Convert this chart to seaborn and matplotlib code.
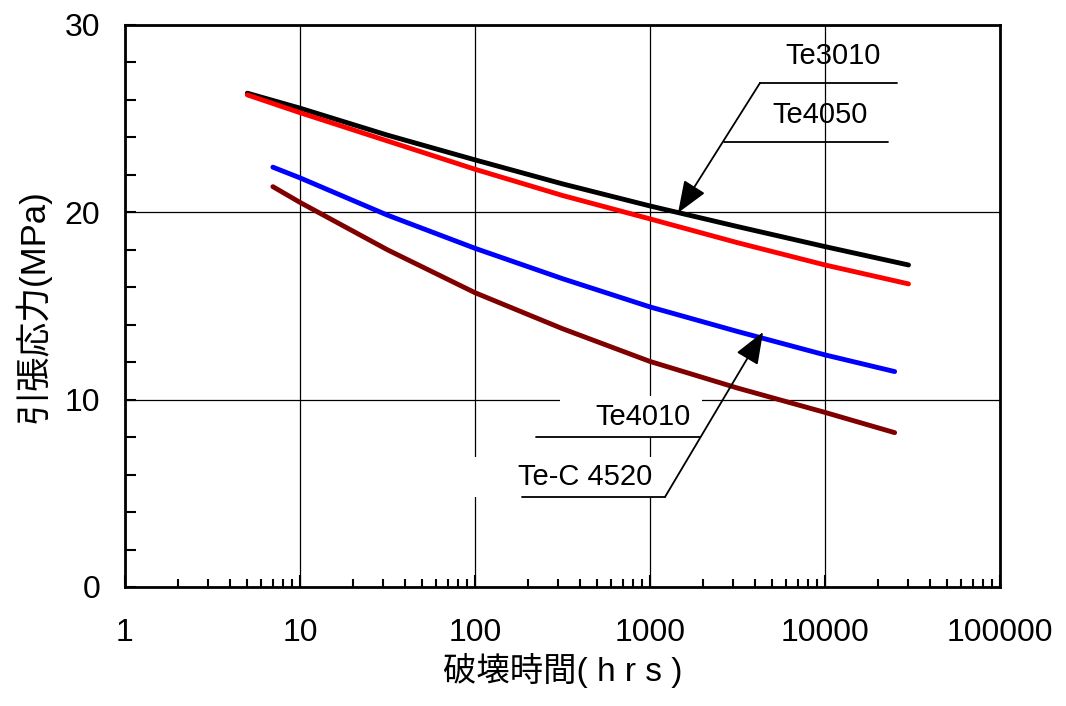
import matplotlib
matplotlib.use("Agg")
import numpy as np
import pandas as pd
import matplotlib.pyplot as plt
import seaborn as sns
from matplotlib.ticker import LogLocator, MultipleLocator, NullFormatter
from matplotlib.patches import Rectangle

# curves (hours, MPa), read at decades and half decades
hours_3010 = [5, 10, 31.6, 100, 316, 1000, 3162, 10000, 30000]
stress_3010 = [26.36, 25.56, 24.12, 22.80, 21.52, 20.34, 19.24, 18.17, 17.19]
hours_4050 = [5, 10, 31.6, 100, 316, 1000, 3162, 10000, 30000]
stress_4050 = [26.27, 25.32, 23.81, 22.30, 20.90, 19.65, 18.38, 17.19, 16.18]
hours_4010 = [7, 10, 31.6, 100, 316, 1000, 3162, 10000, 25000]
stress_4010 = [22.41, 21.84, 19.85, 18.08, 16.46, 14.95, 13.64, 12.39, 11.50]
hours_4520 = [7, 10, 31.6, 100, 316, 1000, 3162, 10000, 25000]
stress_4520 = [21.37, 20.53, 18.00, 15.71, 13.79, 12.04, 10.62, 9.32, 8.24]

grades = ["Te3010", "Te4050", "Te4010", "Te-C 4520"]
colors = ["#000000", "#ff0000", "#0000ff", "#800000"]

xticks = [1, 10, 100, 1000, 10000, 100000]
xtick_labels = ["1", "10", "100", "1000", "10000", "100000"]
yticks = [0, 10, 20, 30]

frames = []
for g, h, s in zip(grades, [hours_3010, hours_4050, hours_4010, hours_4520],
                   [stress_3010, stress_4050, stress_4010, stress_4520]):
    frames.append(pd.DataFrame({"hours": h, "stress": s, "grade": g}))
df = pd.concat(frames, ignore_index=True)

sns.set_style("white")
plt.rcParams["font.family"] = ["Liberation Sans", "Noto Sans CJK JP", "DejaVu Sans"]
plt.rcParams["text.color"] = "black"
plt.rcParams["axes.labelcolor"] = "black"
plt.rcParams["xtick.color"] = "black"
plt.rcParams["ytick.color"] = "black"

fig = plt.figure(figsize=(10.66, 7.06), dpi=100)
ax = fig.add_axes([125 / 1066, 1 - 587 / 706, 875 / 1066, 562 / 706])

sns.lineplot(data=df, x="hours", y="stress", hue="grade", hue_order=grades,
             palette=colors, linewidth=3.5, legend=False, ax=ax,
             solid_capstyle="round", solid_joinstyle="round", zorder=3)

ax.set_xscale("log")
ax.set_xlim(1, 100000)
ax.set_ylim(0, 30)
ax.set_xticks(xticks)
ax.set_xticklabels(xtick_labels)
ax.xaxis.set_minor_locator(LogLocator(base=10, subs=np.arange(2, 10)))
ax.xaxis.set_minor_formatter(NullFormatter())
ax.set_yticks(yticks)
ax.yaxis.set_minor_locator(MultipleLocator(2))

ax.grid(True, which="major", color="black", linewidth=0.9)
ax.set_axisbelow(True)
for sp in ax.spines.values():
    sp.set_visible(True)
    sp.set_color("black")
    sp.set_linewidth(2)

ax.tick_params(axis="both", which="both", direction="in", colors="black",
               labelcolor="black", labelsize=23, width=1.5,
               bottom=True, left=True, top=False, right=False)
ax.tick_params(axis="x", which="major", length=9, pad=22)
ax.tick_params(axis="x", which="minor", length=6)
ax.tick_params(axis="y", which="major", length=8, pad=18)
ax.tick_params(axis="y", which="minor", length=8)

ax.set_xlabel("破壊時間( h r s )", fontsize=24, labelpad=4)
ax.set_ylabel("引張応力(MPa)", fontsize=25, labelpad=10)

# white boxes behind the lower labels
ax.add_patch(Rectangle((306, 8.01), 1982 - 306, 10.2 - 8.01, facecolor="white",
                       edgecolor="none", zorder=1))
ax.add_patch(Rectangle((93.6, 4.80), 1218 - 93.6, 6.94 - 4.80, facecolor="white",
                       edgecolor="none", zorder=1))

lab = dict(fontsize=21, ha="center", va="center", zorder=4)
ax.text(11100, 28.35, "Te3010", **lab)
ax.text(9360, 25.2, "Te4050", **lab)
ax.text(912, 9.08, "Te4010", **lab)
ax.text(425, 5.87, "Te-C 4520", **lab)

ul = dict(color="black", linewidth=1.3, zorder=4)
ax.plot([4254, 25780], [26.91, 26.91], **ul)
ax.plot([2648, 22900], [23.76, 23.76], **ul)
ax.plot([223, 1932], [8.01, 8.01], **ul)
ax.plot([185.6, 1218], [4.805, 4.805], **ul)

arrow = dict(arrowstyle="-|>,head_length=0.9,head_width=0.35", color="black",
             lw=1.3, shrinkA=0, shrinkB=0, mutation_scale=22)
ax.annotate("", xy=(1446, 19.97), xytext=(4254, 26.91), arrowprops=arrow, zorder=5)
ax.annotate("", xy=(4425, 13.61), xytext=(1218, 4.805), arrowprops=arrow, zorder=5)

fig.savefig("out.png", dpi=100)
